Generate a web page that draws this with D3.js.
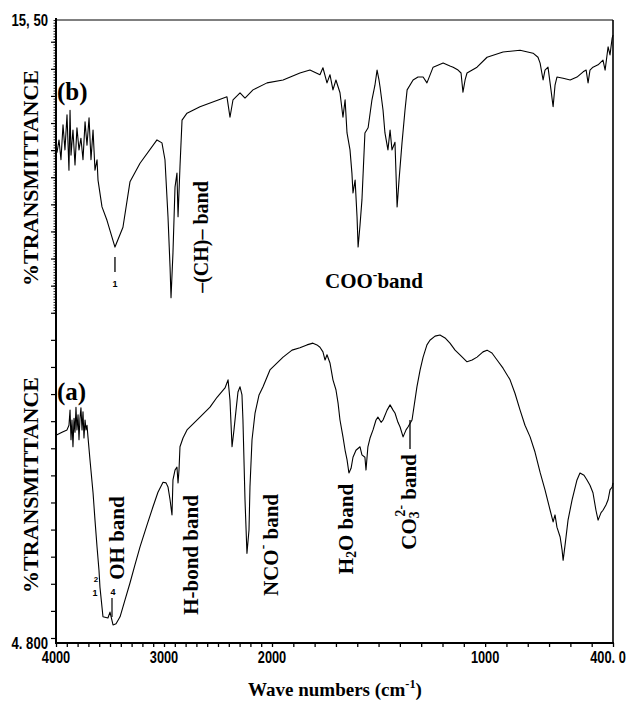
<!DOCTYPE html>
<html><head><meta charset="utf-8">
<script src="https://cdn.jsdelivr.net/npm/d3@7"></script>
<style>body{margin:0;background:#fff}svg{display:block}</style>
</head><body><svg id="c" width="633" height="702"></svg>
<script>
// ---- data: spectrum (b), top ----
const waveB = [3991,3972,3954,3935,3917,3898,3880,3870,3861,3843,3824,3806,3787,3769,3750,3731,3713,3694,3676,3657,3639,3620,3611,3574,3528,3454,3380,3315,3222,3065,3019,2991,2963,2944,2935,2917,2898,2880,2870,2852,2833,2787,2667,2417,2389,2361,2296,2250,2176,2046,1948,1869,1822,1775,1761,1742,1728,1714,1700,1681,1667,1657,1648,1634,1625,1620,1610,1601,1596,1587,1578,1564,1549,1531,1517,1507,1498,1493,1479,1470,1456,1446,1437,1423,1413,1404,1390,1376,1366,1338,1315,1291,1273,1244,1197,1165,1150,1127,1113,1104,1094,1085,1038,991,916,836,775,752,742,728,719,705,691,681,672,663,634,601,569,540,526,517,508,494,470,447,437,423,414,404,400];
const transB = [13.22,13.44,13.10,13.70,13.27,13.87,12.92,13.95,13.18,13.61,13.01,13.65,13.27,13.47,13.10,13.75,13.35,13.82,13.10,13.61,12.92,13.10,12.75,12.29,12.06,11.60,11.94,12.72,13.04,13.44,13.39,13.10,12.12,11.26,10.73,11.50,12.63,12.87,12.12,12.98,13.78,13.90,14.01,14.18,13.83,14.13,14.25,14.16,14.30,14.42,14.47,14.59,14.64,14.56,14.68,14.42,14.56,14.30,14.47,14.25,13.83,14.13,13.56,13.27,12.87,12.53,12.75,12.12,11.60,11.98,12.41,13.56,13.65,14.13,14.38,14.64,14.47,14.35,13.95,13.56,13.27,13.61,13.27,13.40,12.29,12.75,13.39,13.95,14.30,14.47,14.52,14.52,14.42,14.69,14.76,14.71,14.69,14.64,14.59,14.26,14.47,14.59,14.69,14.86,14.95,14.98,14.93,14.86,14.76,14.47,14.64,14.69,14.30,14.01,14.38,14.52,14.50,14.47,14.52,14.61,14.64,14.42,14.64,14.69,14.73,14.81,14.64,15.04,14.90,15.19,15.24];
// ---- data: spectrum (a), bottom ----
const waveA = [4000,3944,3898,3880,3870,3861,3852,3843,3833,3824,3815,3806,3796,3787,3778,3769,3759,3750,3741,3731,3722,3713,3704,3685,3657,3639,3620,3602,3593,3565,3519,3500,3472,3444,3407,3361,3315,3269,3222,3157,3102,3056,3009,2981,2963,2944,2926,2917,2898,2880,2870,2861,2852,2824,2787,2667,2574,2509,2435,2407,2398,2389,2370,2352,2333,2315,2296,2278,2269,2250,2232,2213,2204,2185,2157,2120,2083,2019,1948,1906,1869,1836,1808,1789,1775,1761,1751,1742,1728,1714,1700,1690,1681,1667,1657,1648,1639,1629,1620,1606,1587,1578,1564,1559,1550,1540,1526,1512,1503,1488,1479,1460,1446,1432,1423,1409,1399,1385,1371,1362,1343,1320,1305,1291,1273,1259,1235,1212,1188,1165,1141,1118,1085,1061,1038,1010,991,968,944,916,883,860,836,813,789,766,742,719,695,681,672,663,648,639,634,625,611,592,569,555,536,522,508,494,480,470,456,447,433,423,414,404,400];
const transA = [8.37,8.42,8.46,8.54,8.80,8.29,8.63,8.17,8.66,8.42,8.85,8.46,8.72,8.29,8.66,8.84,8.46,8.77,8.32,8.63,8.46,8.54,8.34,7.94,7.38,6.91,6.45,6.05,5.76,5.25,5.23,5.33,5.11,5.13,5.25,5.54,5.83,6.14,6.45,6.83,7.14,7.39,7.56,7.55,7.48,7.26,7.00,7.60,7.77,7.82,7.55,7.77,8.17,8.32,8.46,8.68,8.85,9.02,9.18,9.32,9.15,8.97,8.17,8.46,8.80,9.11,9.20,9.06,8.63,7.26,6.34,6.74,7.48,8.29,8.75,9.06,9.20,9.49,9.71,9.83,9.87,9.92,9.95,9.92,9.88,9.80,9.66,9.75,9.61,9.32,9.15,8.92,8.63,8.34,8.11,7.95,7.72,7.80,7.99,8.11,8.17,8.03,7.99,7.77,8.17,8.32,8.46,8.63,8.68,8.59,8.63,8.80,8.89,8.80,8.75,8.59,8.51,8.34,8.46,8.51,8.63,9.20,9.49,9.71,9.92,10.00,10.07,10.09,10.04,9.95,9.83,9.75,9.63,9.66,9.71,9.80,9.83,9.78,9.66,9.52,9.32,9.09,8.80,8.54,8.34,8.08,7.73,7.43,7.08,6.88,7.00,6.79,6.62,6.40,6.22,6.48,6.91,7.26,7.60,7.72,7.68,7.60,7.51,7.38,7.08,6.91,7.04,7.08,7.17,7.26,7.43,7.48,7.55];
// ---- axes labels ----
const xLabelValues = [4000,3000,2000,1000,400];
const xLabelTexts = ["4000","3000","2000","1000","400. 0"];
const yLabelValues = [15.5,4.8];
const yLabelTexts = ["15, 50","4. 800"];
const xDomain = [4000,2000,400];   // x scale is expanded 2x below 2000 cm-1
const yDomain = [4.8,15.5];

const svg = d3.select("#c");
svg.append("rect").attr("width",633).attr("height",702).attr("fill","#fff");
const L=56, R=613, T=20, B=643;
const x = d3.scaleLinear().domain(xDomain).range([L,272,R]);
const y = d3.scaleLinear().domain(yDomain).range([B,T]);

// frame
svg.append("line").attr("x1",L).attr("x2",R).attr("y1",T).attr("y2",T).attr("stroke","#000").attr("stroke-width",1);
svg.append("line").attr("x1",R).attr("x2",R).attr("y1",T).attr("y2",B).attr("stroke","#000").attr("stroke-width",1.6);

// x ticks
const xt = svg.append("g").attr("transform",`translate(0,${B})`)
  .call(d3.axisBottom(x).tickValues(d3.range(400,4001,100)).tickSize(4).tickSizeOuter(0).tickFormat(""));
xt.select(".domain").remove();
xt.selectAll("line").attr("stroke","#000").attr("stroke-width",1.3);
// y ticks
const yStep = 0.4655, yStart = 4.886;
const yMajor = d3.range(yStart, 15.5, yStep);
const yMinor = d3.range(yStart, 15.5, yStep/10).filter(v => v > 10.45);
const ya = svg.append("g").attr("transform",`translate(${L},0)`)
  .call(d3.axisLeft(y).tickValues(yMajor).tickSize(5).tickSizeOuter(0).tickFormat(""));
ya.select(".domain").remove();
ya.selectAll("line").attr("stroke","#000").attr("stroke-width",1.2);
const ym = svg.append("g").attr("transform",`translate(${L},0)`)
  .call(d3.axisLeft(y).tickValues(yMinor).tickSize(2.5).tickSizeOuter(0).tickFormat(""));
ym.select(".domain").remove();
ym.selectAll("line").attr("stroke","#000").attr("stroke-width",0.9);

svg.append("line").attr("x1",L).attr("x2",L).attr("y1",T-2).attr("y2",B+1).attr("stroke","#000").attr("stroke-width",2);
svg.append("line").attr("x1",L).attr("x2",R+1).attr("y1",B).attr("y2",B).attr("stroke","#000").attr("stroke-width",2);

// condensed numeric labels (scaled horizontally)
const numFont = "'Liberation Sans',Arial,sans-serif";
svg.append("g").selectAll("text").data(xLabelValues).join("text")
  .attr("transform",(d,i)=>`translate(${i===xLabelValues.length-1 ? x(d)-5 : x(d)},663) scale(0.8,1)`)
  .attr("text-anchor","middle")
  .attr("font-family",numFont).attr("font-weight","bold").attr("font-size",16)
  .text((d,i)=>xLabelTexts[i]);
svg.append("g").selectAll("text").data(yLabelValues).join("text")
  .attr("transform",d=>`translate(48,${y(d)+6}) scale(0.82,1)`)
  .attr("text-anchor","end")
  .attr("font-family",numFont).attr("font-weight","bold").attr("font-size",16)
  .text((d,i)=>yLabelTexts[i]);

// spectra
const line = d3.line().x(d=>x(d[0])).y(d=>y(d[1]));
[[waveB,transB],[waveA,transA]].forEach(([w,t])=>{
  svg.append("path").datum(w.map((v,i)=>[v,t[i]]))
    .attr("d",line).attr("fill","none").attr("stroke","#000")
    .attr("stroke-width",1.1).attr("stroke-linejoin","round");
});

// text helpers
const serif = "'Liberation Serif','Times New Roman',serif";
function addParts(t, parts, size){
  let shift = 0;
  parts.forEach(p=>{
    let target, txt, fs;
    if (typeof p === "string"){ target=0; txt=p; fs=size; }
    else if (p.sup){ target=-0.42*size; txt=p.sup; fs=size*0.65; }
    else { target=0.22*size; txt=p.sub; fs=size*0.65; }
    const ts = t.append("tspan").attr("font-size",fs).text(txt);
    if (target!==shift) ts.attr("dy", target-shift);
    if (p.dx) ts.attr("dx", p.dx);
    shift = target;
  });
}
function vlabel(cx, cy, parts, size){
  const t = svg.append("text").attr("transform",`translate(${cx},${cy}) rotate(-90)`)
    .attr("text-anchor","middle").attr("dominant-baseline","central")
    .attr("font-family",serif).attr("font-weight","bold").attr("font-size",size);
  addParts(t, parts, size);
  return t;
}
function hlabel(x0, y0, parts, size, anchor="start"){
  const t = svg.append("text").attr("x",x0).attr("y",y0).attr("text-anchor",anchor)
    .attr("font-family",serif).attr("font-weight","bold").attr("font-size",size);
  addParts(t, parts, size);
  return t;
}

hlabel(57,100,["(b)"],25);
hlabel(57,400,["(a)"],25);
vlabel(30,178,["%TRANSMITTANCE"],22);
vlabel(30,485,["%TRANSMITTANCE"],22);

vlabel(201,237,["\u2013(CH)\u2013 band"],20);
hlabel(325,288,["COO",{sup:"-"},"band"],21);
vlabel(117,538,["OH band"],21);
vlabel(191,555,["H-bond band"],21);
vlabel(271,545,["NCO",{sup:"-"}," band"],21);
vlabel(346,529,["H",{sub:"2"},"O band"],21);
vlabel(409,502,["CO",{sub:"3"},{sup:"2-",dx:-5}," band"],21);
svg.append("line").attr("x1",410).attr("x2",410).attr("y1",449).attr("y2",420).attr("stroke","#000").attr("stroke-width",1.3);

// small peak markers
svg.append("line").attr("x1",x(3454)).attr("x2",x(3454)).attr("y1",257).attr("y2",272).attr("stroke","#000").attr("stroke-width",1.3);
svg.append("text").attr("x",x(3454)).attr("y",287).attr("text-anchor","middle").attr("font-family",numFont).attr("font-weight","bold").attr("font-size",9).text("1");
svg.append("line").attr("x1",112).attr("x2",112).attr("y1",598).attr("y2",617).attr("stroke","#000").attr("stroke-width",1.2);
svg.append("text").attr("x",113).attr("y",595).attr("text-anchor","middle").attr("font-family",numFont).attr("font-weight","bold").attr("font-size",9).text("4");
svg.append("text").attr("x",95).attr("y",596).attr("text-anchor","middle").attr("font-family",numFont).attr("font-weight","bold").attr("font-size",9).text("1");
svg.append("text").attr("x",96).attr("y",582).attr("text-anchor","middle").attr("font-family",numFont).attr("font-weight","bold").attr("font-size",8).text("2");

// x title
hlabel(335,696,["Wave numbers (cm",{sup:"-1"},")"],19,"middle");
</script></body></html>
